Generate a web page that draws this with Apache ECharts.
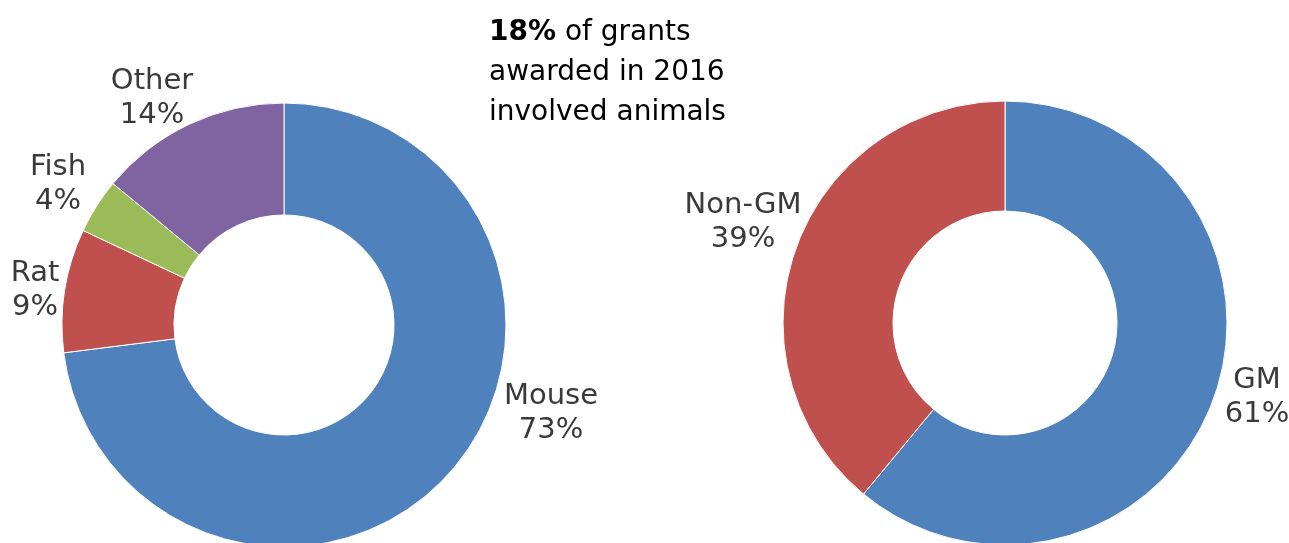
<!DOCTYPE html>
<html>
<head>
<meta charset="utf-8">
<script src="https://cdn.jsdelivr.net/npm/echarts@6/dist/echarts.min.js"></script>
<style>
html,body{margin:0;padding:0;background:#fff;}
#chart{width:1289px;height:543px;}
</style>
</head>
<body>
<div id="chart"></div>
<script>
// Data
const speciesNames = ['Mouse', 'Rat', 'Fish', 'Other'];
const speciesValues = [73, 9, 4, 14];
const gmNames = ['GM', 'Non-GM'];
const gmValues = [61, 39];
const headlinePct = '18%';
const headlineRest = ['of grants', 'awarded in 2016', 'involved animals'];

const speciesColors = ['#4F81BD', '#C0504D', '#9BBB59', '#8064A2'];
const gmColors = ['#4F81BD', '#C0504D'];

// label anchor positions (layout only)
const labelPos = {
  0: { Mouse: [551, 413], Rat: [35, 290], Fish: [58, 184], Other: [152, 98] },
  1: { GM: [1257, 397], 'Non-GM': [743, 222] }
};

const FONT = 'DejaVu Sans';
const labelStyle = {
  show: true,
  position: 'outside',
  formatter: p => p.name + '\n' + p.value + '%',
  fontFamily: FONT,
  fontSize: 29,
  lineHeight: 34,
  color: '#3a3a3a',
  align: 'center'
};

const chart = echarts.init(document.getElementById('chart'), null, { renderer: 'canvas' });
chart.setOption({
  backgroundColor: '#fff',
  animation: false,
  title: {
    text: '{b|' + headlinePct + '} ' + headlineRest[0] + '\n' + headlineRest[1] + '\n' + headlineRest[2],
    left: 489,
    top: 13,
    padding: 0,
    textStyle: {
      fontFamily: FONT,
      fontSize: 28,
      fontWeight: 'normal',
      color: '#000',
      lineHeight: 40,
      rich: {
        b: { fontFamily: FONT, fontSize: 28, fontWeight: 'bold', color: '#000', lineHeight: 40 }
      }
    }
  },
  series: [
    {
      type: 'pie',
      center: [284, 325],
      radius: [110, 222],
      startAngle: 90,
      clockwise: true,
      avoidLabelOverlap: false,
      silent: true,
      itemStyle: { borderColor: '#fff', borderWidth: 1 },
      label: labelStyle,
      labelLine: { show: false },
      labelLayout: p => {
        const pos = labelPos[0][speciesNames[p.dataIndex]];
        return { x: pos[0], y: pos[1], align: 'center', verticalAlign: 'middle' };
      },
      data: speciesNames.map((n, i) => ({ name: n, value: speciesValues[i], itemStyle: { color: speciesColors[i] } }))
    },
    {
      type: 'pie',
      center: [1005, 323],
      radius: [112, 222],
      startAngle: 90,
      clockwise: true,
      avoidLabelOverlap: false,
      silent: true,
      itemStyle: { borderColor: '#fff', borderWidth: 1 },
      label: labelStyle,
      labelLine: { show: false },
      labelLayout: p => {
        const pos = labelPos[1][gmNames[p.dataIndex]];
        return { x: pos[0], y: pos[1], align: 'center', verticalAlign: 'middle' };
      },
      data: gmNames.map((n, i) => ({ name: n, value: gmValues[i], itemStyle: { color: gmColors[i] } }))
    }
  ]
});
</script>
</body>
</html>
